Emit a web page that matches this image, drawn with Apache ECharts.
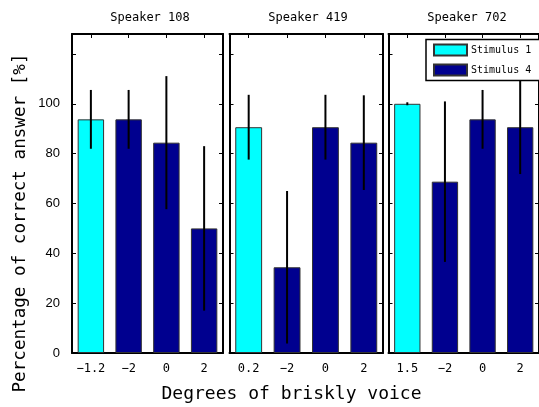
<!DOCTYPE html>
<html><head><meta charset="utf-8">
<script src="https://cdn.jsdelivr.net/npm/echarts@6/dist/echarts.min.js"></script>
<style>html,body{margin:0;padding:0;background:#fff}#c{width:539px;height:407px}</style>
</head><body><div id="c"></div>
<script>
const speakers = ['Speaker 108', 'Speaker 419', 'Speaker 702'];
const categories108 = ['−1.2', '−2', '0', '2'];
const categories419 = ['0.2', '−2', '0', '2'];
const categories702 = ['1.5', '−2', '0', '2'];
const means108 = [93.75, 93.75, 84.4, 50];
const errors108 = [11.8, 11.8, 26.7, 33];
const means419 = [90.6, 34.4, 90.6, 84.4];
const errors419 = [13, 30.6, 13, 19];
const means702 = [100, 68.75, 93.75, 90.6];
const errors702 = [0.6, 32.2, 11.8, 18.8];
const yTicks = [0, 20, 40, 60, 80, 100];
const yLabel = 'Percentage of correct answer [%]';
const xLabel = 'Degrees of briskly voice';
const seriesNames = ['Stimulus 1', 'Stimulus 4'];

const panels = [
  {cats: categories108, means: means108, errs: errors108, left: 72, width: 151, tx: 150},
  {cats: categories419, means: means419, errs: errors419, left: 229.5, width: 153.5, tx: 308},
  {cats: categories702, means: means702, errs: errors702, left: 388.5, width: 154, tx: 467}
];
const MONO = '"DejaVu Sans Mono", "Liberation Mono", monospace';
const grids = [], xAxes = [], yAxes = [], series = [], graphics = [];
const axisLine = {show: true, onZero: false, lineStyle: {color: '#000', width: 2}};
function errRender(params, api) {
  const x = api.value(0);
  const lo = api.coord([x, api.value(1)]);
  const hi = api.coord([x, api.value(2)]);
  return {type: 'line', shape: {x1: lo[0], y1: lo[1], x2: hi[0], y2: hi[1]},
          style: {stroke: '#000', lineWidth: 2}};
}
panels.forEach((p, i) => {
  grids.push({left: p.left, top: 34, width: p.width, height: 319, containLabel: false});
  const baseX = {gridIndex: i, type: 'category', data: p.cats, boundaryGap: true,
    axisLine: axisLine, splitLine: {show: false},
    axisTick: {show: true, inside: true, alignWithLabel: true, length: 4, lineStyle: {color: '#000', width: 1}}};
  xAxes.push(Object.assign({}, baseX, {position: 'bottom',
    axisLabel: {show: true, color: '#000', fontFamily: MONO, fontSize: 12, margin: 10, interval: 0}}));
  xAxes.push(Object.assign({}, baseX, {position: 'top', axisLabel: {show: false}}));
  const baseY = {gridIndex: i, type: 'value', min: 0, max: 128, interval: 20,
    axisLine: axisLine, splitLine: {show: false},
    axisTick: {show: true, inside: true, length: 4, lineStyle: {color: '#000', width: 1}}};
  yAxes.push(Object.assign({}, baseY, {position: 'left',
    axisLabel: {show: i === 0, color: '#000', fontFamily: '"Liberation Sans", Arial, sans-serif', fontSize: 13, margin: 12,
      showMaxLabel: false,
      formatter: v => (yTicks.indexOf(v) >= 0 ? String(v) : '')}}));
  yAxes.push(Object.assign({}, baseY, {position: 'right', axisLabel: {show: false}}));
  const s1 = p.means.map((v, k) => k === 0 ? v : '-');
  const s4 = p.means.map((v, k) => k === 0 ? '-' : v);
  series.push({name: seriesNames[0], type: 'bar', xAxisIndex: 2 * i, yAxisIndex: 2 * i,
    data: s1, barWidth: '70%', barGap: '-100%',
    itemStyle: {color: '#00FFFF', borderColor: '#333', borderWidth: 1}});
  series.push({name: seriesNames[1], type: 'bar', xAxisIndex: 2 * i, yAxisIndex: 2 * i,
    data: s4, barWidth: '70%', barGap: '-100%',
    itemStyle: {color: '#00008F', borderColor: '#333', borderWidth: 1}});
  series.push({name: 'error', type: 'custom', xAxisIndex: 2 * i, yAxisIndex: 2 * i, z: 5,
    renderItem: errRender,
    data: p.means.map((m, k) => [k, m - p.errs[k], m + p.errs[k]])});
  graphics.push({type: 'text', x: p.tx, y: 17.5,
    style: {text: speakers[i], font: '12px ' + MONO, fill: '#000', align: 'center', verticalAlign: 'middle'}});
});
graphics.push({type: 'text', x: 20, y: 223, rotation: Math.PI / 2,
  style: {text: yLabel, font: '17.6px ' + MONO, fill: '#000', align: 'center', verticalAlign: 'middle'}});
graphics.push({type: 'text', x: 291.5, y: 394.5,
  style: {text: xLabel, font: '18px ' + MONO, fill: '#000', align: 'center', verticalAlign: 'middle'}});

const chart = echarts.init(document.getElementById('c'), null, {renderer: 'canvas'});
chart.setOption({
  animation: false,
  backgroundColor: '#fff',
  grid: grids, xAxis: xAxes, yAxis: yAxes, series: series, graphic: graphics,
  legend: {data: seriesNames, orient: 'vertical', left: 426, top: 39.5, icon: 'rect',
    itemWidth: 33, itemHeight: 11, itemGap: 7, padding: [4, 9, 4, 7],
    backgroundColor: '#fff', borderColor: '#000', borderWidth: 1.5,
    textStyle: {fontFamily: MONO, fontSize: 10, color: '#000', padding: [0, 0, 0, -1]}}
});
</script></body></html>
